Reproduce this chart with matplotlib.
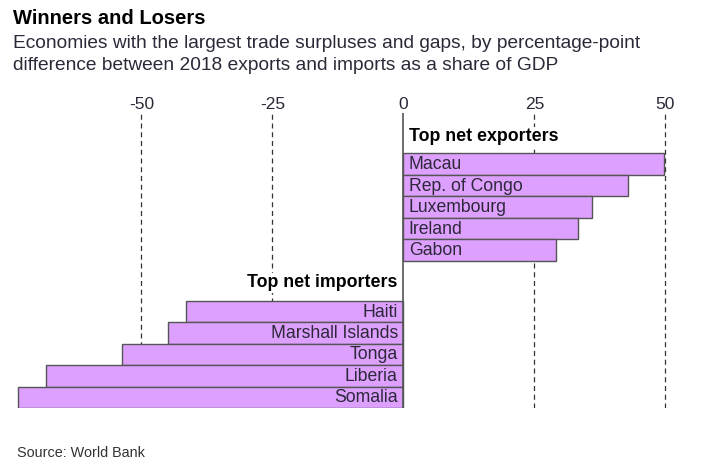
import matplotlib
matplotlib.use("Agg")
import matplotlib.pyplot as plt
import numpy as np

plt.rcParams['font.family'] = ['Liberation Sans', 'DejaVu Sans']

exporters = ["Macau", "Rep. of Congo", "Luxembourg", "Ireland", "Gabon"]
exporter_values = [49.8, 42.9, 36.1, 33.3, 29.1]
importers = ["Haiti", "Marshall Islands", "Tonga", "Liberia", "Somalia"]
importer_values = [-41.5, -45.0, -53.6, -68.1, -73.5]
ticks = [-50, -25, 0, 25, 50]

BAR_COLOR = "#dda0ff"
EDGE_COLOR = "#555555"
TEXT_COLOR = "#2d2838"
GAP = 6.86  # row offset of the importers block


def draw_bars(ax):
    y_exp = np.arange(len(exporters))
    y_imp = np.arange(len(importers)) + GAP

    ax.barh(y_exp, exporter_values, height=1.0, color=BAR_COLOR,
            edgecolor=EDGE_COLOR, linewidth=1.0, zorder=2)
    ax.barh(y_imp, importer_values, height=1.0, color=BAR_COLOR,
            edgecolor=EDGE_COLOR, linewidth=1.0, zorder=2)

    for y, name in zip(y_exp, exporters):
        ax.annotate(name, (0, y), xytext=(4, -0.5), textcoords="offset points",
                    ha="left", va="center", fontsize=12.7, color=TEXT_COLOR,
                    zorder=4)
    for y, name in zip(y_imp, importers):
        ax.annotate(name, (0, y), xytext=(-4, -0.5), textcoords="offset points",
                    ha="right", va="center", fontsize=12.7, color=TEXT_COLOR,
                    zorder=4)

    box = dict(facecolor="white", edgecolor="none", pad=1.0)
    ax.annotate("Top net exporters", (0, -1.26), xytext=(4, 0),
                textcoords="offset points", ha="left", va="center",
                fontsize=12.8, fontweight="bold", color="black",
                bbox=box, zorder=3)
    ax.annotate("Top net importers", (0, GAP - 1.33), xytext=(-4, 0),
                textcoords="offset points", ha="right", va="center",
                fontsize=12.8, fontweight="bold", color="black",
                bbox=box, zorder=3)


def style_axes(ax):
    for t in ticks:
        if t == 0:
            ax.axvline(t, color=EDGE_COLOR, linewidth=1.2, zorder=3)
        else:
            ax.axvline(t, color="#333333", linewidth=0.9,
                       linestyle=(0, (4, 3)), zorder=1)
    ax.set_xlim(-76, 55)
    ax.set_ylim(11.36, -2.39)
    ax.set_xticks(ticks)
    ax.set_xticklabels([str(t) for t in ticks])
    ax.xaxis.tick_top()
    ax.tick_params(axis="x", length=0, pad=0.8, labelsize=12.5,
                   labelcolor=TEXT_COLOR)
    ax.set_yticks([])
    for s in ax.spines.values():
        s.set_visible(False)


def create_plot(path_plot):
    fig = plt.figure(figsize=(7.03, 4.76), dpi=100)
    ax = fig.add_axes([0.00725, 0.1429, 0.9764, 0.6204])
    draw_bars(ax)
    style_axes(ax)

    fig.text(13 / 703, 1 - 19 / 476, "Winners and Losers", fontsize=14.5,
             fontweight="bold", ha="left", va="center", color="black")
    fig.text(13 / 703, 1 - 43.5 / 476,
             "Economies with the largest trade surpluses and gaps, by percentage-point",
             fontsize=13.8, ha="left", va="center", color=TEXT_COLOR)
    fig.text(13 / 703, 1 - 65.5 / 476,
             "difference between 2018 exports and imports as a share of GDP",
             fontsize=13.8, ha="left", va="center", color=TEXT_COLOR)
    fig.text(17 / 703, 1 - 453 / 476, "Source: World Bank", fontsize=10.4,
             ha="left", va="center", color="#333333")

    fig.savefig(path_plot, dpi=100)


if __name__ == "__main__":
    create_plot("out.png")
